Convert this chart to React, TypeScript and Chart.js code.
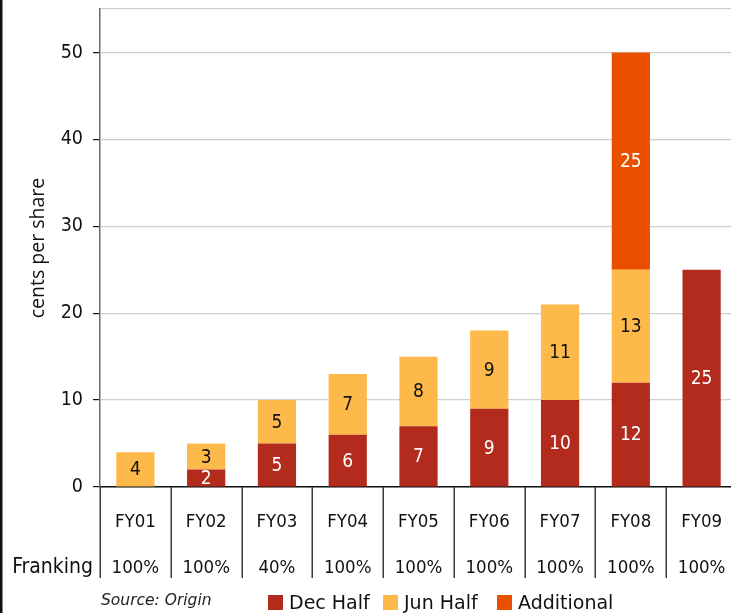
import React, { useEffect, useRef } from "react";
import { Chart, registerables } from "chart.js";

Chart.register(...registerables);

// Dividend per share (cents), by financial year
const categories = ["FY01", "FY02", "FY03", "FY04", "FY05", "FY06", "FY07", "FY08", "FY09"];
const decHalf = [0, 2, 5, 6, 7, 9, 10, 12, 25];
const junHalf = [4, 3, 5, 7, 8, 9, 11, 13, 0];
const additional = [0, 0, 0, 0, 0, 0, 0, 25, 0];
const franking = ["100%", "100%", "40%", "100%", "100%", "100%", "100%", "100%", "100%"];
const yTickValues = [0, 10, 20, 30, 40, 50];
const yMax = 55;

const seriesNames = ["Dec Half", "Jun Half", "Additional"];
const seriesColors = ["#B22B1D", "#FDB94A", "#E85000"];
const labelColors = ["#ffffff", "#111111", "#ffffff"];

const FONT = "'DejaVu Sans Condensed', 'DejaVu Sans', sans-serif";
const FONT_WIDE = "'DejaVu Sans', sans-serif";

const overlayPlugin = {
  id: "dividendOverlay",
  afterDatasetsDraw(chart: any) {
    const { ctx } = chart;
    ctx.save();
    ctx.font = `19px ${FONT}`;
    ctx.textAlign = "center";
    ctx.textBaseline = "middle";
    chart.data.datasets.forEach((ds: any, di: number) => {
      const meta = chart.getDatasetMeta(di);
      meta.data.forEach((el: any, i: number) => {
        const v = ds.data[i];
        if (!v) return;
        ctx.fillStyle = labelColors[di];
        ctx.fillText(String(v), el.x, (el.y + el.base) / 2 + 1);
      });
    });
    ctx.restore();
  },
  afterDraw(chart: any) {
    const { ctx, chartArea } = chart;
    const xs = chart.scales.x;
    const step = xs.getPixelForValue(1) - xs.getPixelForValue(0);
    const tableBottom = 578;
    ctx.save();

    // table dividers below the axis
    ctx.strokeStyle = "#3a3a3a";
    ctx.lineWidth = 1.5;
    for (let i = 0; i <= categories.length; i++) {
      const x = Math.round(xs.getPixelForValue(0) - step / 2 + i * step) + 0.25;
      ctx.beginPath();
      ctx.moveTo(x, chartArea.bottom);
      ctx.lineTo(x, tableBottom);
      ctx.stroke();
    }

    // franking row
    ctx.fillStyle = "#111";
    ctx.textBaseline = "alphabetic";
    ctx.font = `21px ${FONT}`;
    ctx.textAlign = "right";
    ctx.fillText("Franking", 93, 572.5);
    ctx.font = `18.5px ${FONT}`;
    ctx.textAlign = "center";
    franking.forEach((f, i) => {
      ctx.fillText(f, xs.getPixelForValue(i), 572.5);
    });

    // left frame line
    ctx.fillStyle = "#111";
    ctx.fillRect(0, 0, 2.5, chart.height);

    // source note
    ctx.font = `italic 15.5px ${FONT_WIDE}`;
    ctx.fillStyle = "#222";
    ctx.textAlign = "left";
    ctx.fillText("Source: Origin", 101, 605);

    // legend
    const legendX = [268, 383, 497];
    ctx.font = `19px ${FONT_WIDE}`;
    seriesNames.forEach((name, i) => {
      ctx.fillStyle = seriesColors[i];
      ctx.fillRect(legendX[i], 595, 15, 15);
      ctx.fillStyle = "#111";
      ctx.fillText(name, legendX[i] + 21, 608.5);
    });
    ctx.restore();
  },
};

export default function App() {
  const canvasRef = useRef<HTMLCanvasElement | null>(null);

  useEffect(() => {
    const canvas = canvasRef.current;
    if (!canvas) return;
    const chart = new Chart(canvas, {
      type: "bar",
      data: {
        labels: categories,
        datasets: [
          { label: seriesNames[0], data: decHalf, backgroundColor: seriesColors[0] },
          { label: seriesNames[1], data: junHalf, backgroundColor: seriesColors[1] },
          { label: seriesNames[2], data: additional, backgroundColor: seriesColors[2] },
        ],
      },
      options: {
        responsive: false,
        animation: false,
        devicePixelRatio: 1,
        layout: { padding: { top: 9, right: 8, left: 0, bottom: 0 } },
        datasets: { bar: { categoryPercentage: 1, barPercentage: 0.54 } },
        plugins: {
          legend: { display: false },
          tooltip: { enabled: false },
        },
        scales: {
          x: {
            stacked: true,
            grid: { display: false },
            border: { color: "#111", width: 1.5 },
            ticks: {
              color: "#111",
              font: { family: FONT, size: 18.5 },
              padding: 16,
              maxRotation: 0,
            },
            afterFit(scale: any) {
              scale.height = 126;
            },
          },
          y: {
            stacked: true,
            min: 0,
            max: yMax,
            afterBuildTicks(scale: any) {
              scale.ticks = [...yTickValues, yMax].map((v) => ({ value: v }));
            },
            grid: {
              color: "#cfcfcf",
              lineWidth: 1.2,
              tickLength: 7,
              tickColor: (c: any) => (c.tick && c.tick.value === yMax ? "rgba(0,0,0,0)" : "#111"),
            },
            border: { color: "#6a6a6a", width: 1.5 },
            ticks: {
              color: "#111",
              font: { family: FONT, size: 19.5 },
              padding: 10,
              callback: (v: any) => (v === yMax ? "" : String(v)),
            },
            title: {
              display: true,
              text: "cents per share",
              color: "#111",
              font: { family: "'Open Sans', 'Noto Sans', sans-serif", size: 19.5 },
              padding: { top: 27, bottom: 0 },
            },
            afterFit(scale: any) {
              scale.width = 100;
              scale.paddingTop = 0;
              scale.paddingBottom = 0;
            },
          },
        },
      },
      plugins: [overlayPlugin],
    });
    return () => chart.destroy();
  }, []);

  return (
    <div
      style={{
        position: "fixed",
        left: 0,
        top: 0,
        width: 731,
        height: 613,
        overflow: "hidden",
        background: "#fff",
      }}
    >
      <canvas ref={canvasRef} width={745} height={613} style={{ width: 745, height: 613 }} />
    </div>
  );
}
